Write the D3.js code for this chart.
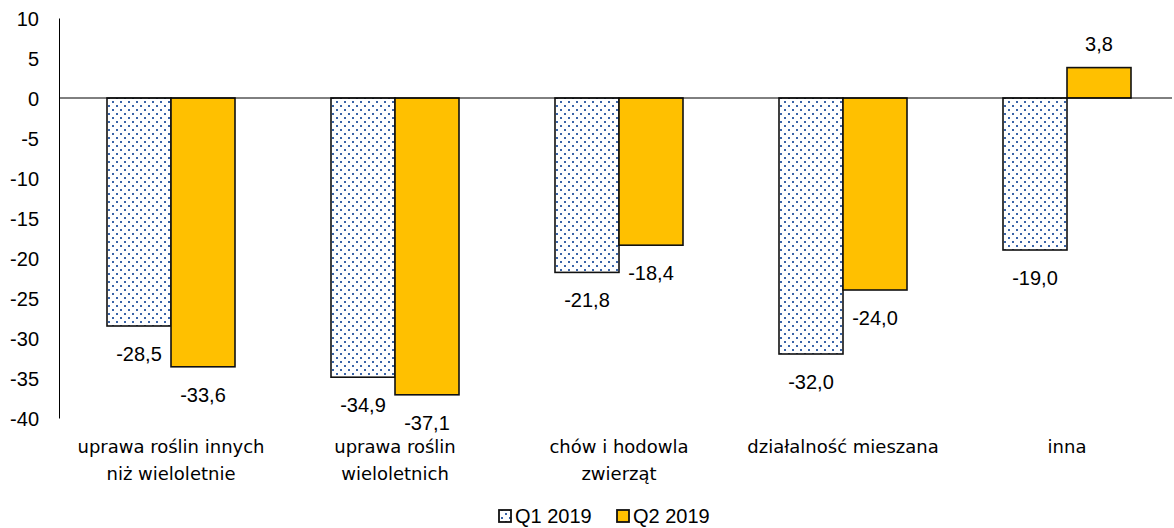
<!DOCTYPE html>
<html>
<head>
<meta charset="utf-8">
<script src="https://cdn.jsdelivr.net/npm/d3@7"></script>
<style>
  body { margin: 0; background: #fff; }
  svg { display: block; }
</style>
</head>
<body>
<script>
// chart data
const categories = [
  ['uprawa roślin innych', 'niż wieloletnie'],
  ['uprawa roślin', 'wieloletnich'],
  ['chów i hodowla', 'zwierząt'],
  ['działalność mieszana'],
  ['inna']
];
const seriesNames = ['Q1 2019', 'Q2 2019'];
const q1Values = [-28.5, -34.9, -21.8, -32.0, -19.0];
const q2Values = [-33.6, -37.1, -18.4, -24.0, 3.8];
const yTicks = [10, 5, 0, -5, -10, -15, -20, -25, -30, -35, -40];

const W = 1174, H = 528;
const margin = { left: 59, top: 18, right: 0, bottom: 110 };

const svg = d3.select('body').append('svg')
  .attr('width', W)
  .attr('height', H);

// dotted pattern for Q1
const defs = svg.append('defs');
const pat = defs.append('pattern')
  .attr('id', 'dots')
  .attr('patternUnits', 'userSpaceOnUse')
  .attr('width', 8)
  .attr('height', 8);
pat.append('rect').attr('width', 8).attr('height', 8).attr('fill', '#fff');
pat.append('rect').attr('x', 1).attr('y', 1).attr('width', 2).attr('height', 2).attr('fill', '#3a64a8');
pat.append('rect').attr('x', 5).attr('y', 5).attr('width', 2).attr('height', 2).attr('fill', '#3a64a8');

const x = d3.scaleBand()
  .domain(d3.range(categories.length))
  .range([margin.left, margin.left + 224 * 5])
  .paddingInner(0)
  .paddingOuter(0);

const x1 = d3.scaleBand()
  .domain([0, 1])
  .range([x.bandwidth() / 2 - 64, x.bandwidth() / 2 + 64]);

const y = d3.scaleLinear()
  .domain([-40, 10])
  .range([418, 18]);

// y axis
const yAxis = svg.append('g')
  .attr('transform', `translate(${margin.left},0)`)
  .call(d3.axisLeft(y).tickValues(yTicks).tickSize(0).tickPadding(20).tickFormat(d => d));
yAxis.select('.domain').attr('stroke', '#000').attr('stroke-width', 1);
yAxis.selectAll('text')
  .attr('font-family', 'Liberation Sans, Arial, sans-serif')
  .attr('font-size', 20)
  .attr('fill', '#000')
  .attr('dy', '0.35em');

const groups = svg.append('g').selectAll('g')
  .data(categories)
  .join('g')
  .attr('transform', (d, i) => `translate(${x(i)},0)`);

const allSeries = [q1Values, q2Values];
const fills = ['url(#dots)', '#FFC000'];

allSeries.forEach((vals, s) => {
  groups.append('rect')
    .attr('x', x1(s))
    .attr('width', x1.bandwidth())
    .attr('y', (d, i) => y(Math.max(0, vals[i])))
    .attr('height', (d, i) => Math.abs(y(vals[i]) - y(0)))
    .attr('fill', fills[s])
    .attr('stroke', '#111')
    .attr('stroke-width', 1.6);
});

// zero line
svg.append('line')
  .attr('x1', margin.left)
  .attr('x2', 1172)
  .attr('y1', y(0))
  .attr('y2', y(0))
  .attr('stroke', '#000')
  .attr('stroke-width', 1);

// value labels
const fmt = v => v.toFixed(1).replace('.', ',');
allSeries.forEach((vals, s) => {
  groups.append('text')
    .attr('x', x1(s) + x1.bandwidth() / 2)
    .attr('y', (d, i) => vals[i] < 0 ? y(vals[i]) + 28 : y(vals[i]) - 24)
    .attr('dy', '0.35em')
    .attr('text-anchor', 'middle')
    .attr('font-family', 'Liberation Sans, Arial, sans-serif')
    .attr('font-size', 20)
    .attr('fill', '#000')
    .text((d, i) => fmt(vals[i]));
});

// category labels
groups.append('text')
  .attr('text-anchor', 'middle')
  .attr('font-family', 'DejaVu Sans, Verdana, sans-serif')
  .attr('font-size', 18)
  .attr('fill', '#000')
  .selectAll('tspan')
  .data(d => d)
  .join('tspan')
  .attr('x', x.bandwidth() / 2)
  .attr('y', (d, j) => 453 + j * 27)
  .text(d => d);

// legend
const legend = svg.append('g')
  .attr('font-family', 'Liberation Sans, Arial, sans-serif')
  .attr('font-size', 20);
const legendX = [499, 617];
seriesNames.forEach((name, s) => {
  legend.append('rect')
    .attr('x', legendX[s])
    .attr('y', 510)
    .attr('width', 12)
    .attr('height', 12)
    .attr('fill', fills[s])
    .attr('stroke', '#111')
    .attr('stroke-width', 1.8);
  legend.append('text')
    .attr('x', legendX[s] + 16)
    .attr('y', 523)
    .attr('fill', '#000')
    .text(name);
});
</script>
</body>
</html>
